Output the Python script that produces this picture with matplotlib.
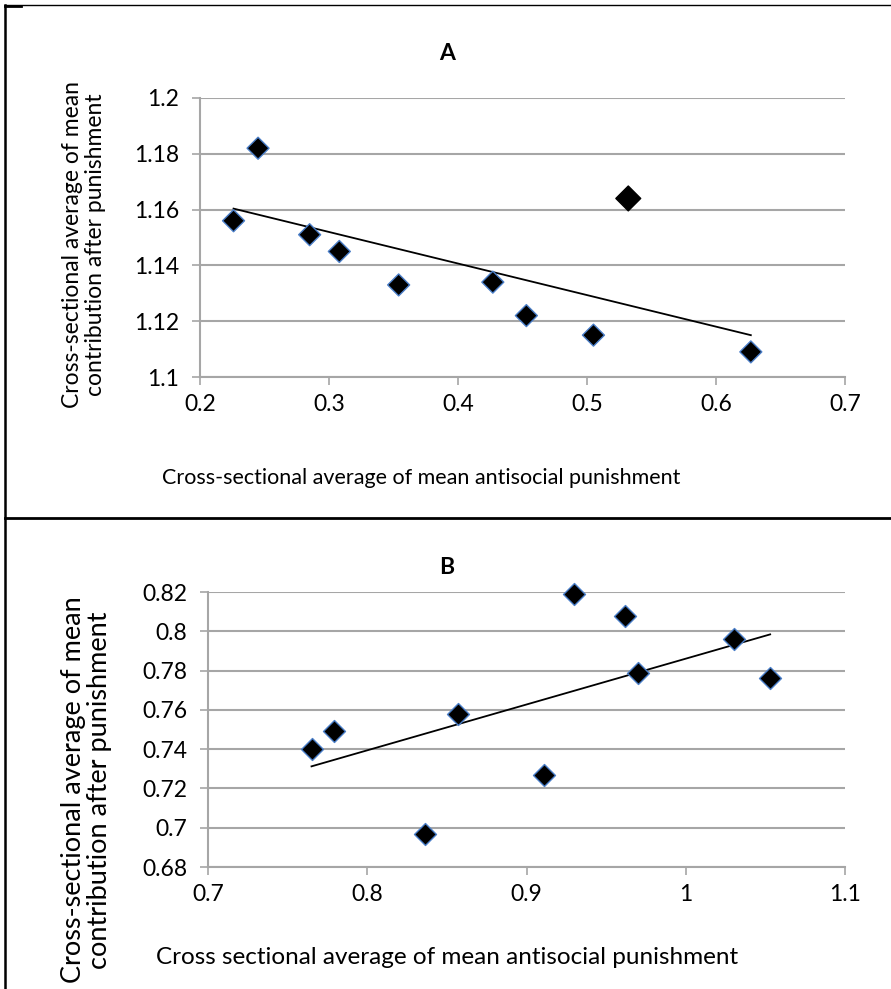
import numpy as np
import matplotlib
matplotlib.use("Agg")
import matplotlib.pyplot as plt
from matplotlib.lines import Line2D

plt.rcParams['font.family'] = ['Lato', 'DejaVu Sans']

# Panel A data
a_x = [0.226, 0.245, 0.285, 0.308, 0.354, 0.427, 0.453, 0.505, 0.532, 0.627]
a_y = [1.156, 1.182, 1.151, 1.145, 1.133, 1.134, 1.122, 1.115, 1.164, 1.109]
a_xticks = [0.2, 0.3, 0.4, 0.5, 0.6, 0.7]
a_xticklabels = ['0.2', '0.3', '0.4', '0.5', '0.6', '0.7']
a_yticks = [1.1, 1.12, 1.14, 1.16, 1.18, 1.2]
a_yticklabels = ['1.1', '1.12', '1.14', '1.16', '1.18', '1.2']

# Panel B data
b_x = [0.765, 0.779, 0.836, 0.857, 0.911, 0.930, 0.962, 0.970, 1.030, 1.053]
b_y = [0.740, 0.749, 0.697, 0.758, 0.727, 0.819, 0.808, 0.779, 0.796, 0.776]
b_xticks = [0.7, 0.8, 0.9, 1.0, 1.1]
b_xticklabels = ['0.7', '0.8', '0.9', '1', '1.1']
b_yticks = [0.68, 0.70, 0.72, 0.74, 0.76, 0.78, 0.80, 0.82]
b_yticklabels = ['0.68', '0.7', '0.72', '0.74', '0.76', '0.78', '0.8', '0.82']

W, H = 891, 989
fig = plt.figure(figsize=(W / 100, H / 100), dpi=100)

def px_rect(l, t, r, b):
    return [l / W, 1 - b / H, (r - l) / W, (b - t) / H]

GRID = '#a6a6a6'
EDGE = '#4a7ec8'

def style(ax, xt, xtl, yt, ytl, fs):
    ax.set_xticks(xt)
    ax.set_xticklabels(xtl)
    ax.set_yticks(yt)
    ax.set_yticklabels(ytl)
    ax.set_xlim(xt[0], xt[-1])
    ax.set_ylim(yt[0], yt[-1])
    for s in ['top', 'right']:
        ax.spines[s].set_visible(False)
    for s in ['left', 'bottom']:
        ax.spines[s].set_color(GRID)
        ax.spines[s].set_linewidth(1.5)
    ax.grid(axis='y', color=GRID, linewidth=1.5)
    ax.set_axisbelow(True)
    ax.tick_params(axis='both', direction='out', length=6, width=1.2,
                   color=GRID, labelsize=fs)
    ax.tick_params(axis='y', pad=9)
    ax.tick_params(axis='x', pad=6)

# Panel A
axA = fig.add_axes(px_rect(200, 98, 845, 377))
style(axA, a_xticks, a_xticklabels, a_yticks, a_yticklabels, 16.5)
coef = np.polyfit(a_x, a_y, 1)
xs = np.array([min(a_x), max(a_x)])
axA.plot(xs, np.polyval(coef, xs), color='black', linewidth=1.3, zorder=2)
a_big = 8
a_sizes = [160 if i == a_big else 125 for i in range(len(a_x))]
a_edges = ['black' if i == a_big else EDGE for i in range(len(a_x))]
axA.scatter(a_x, a_y, marker='D', s=a_sizes, c='black', edgecolors=a_edges,
            linewidths=1.0, zorder=3, clip_on=False)

# Panel B
axB = fig.add_axes(px_rect(208, 592, 845, 867))
style(axB, b_xticks, b_xticklabels, b_yticks, b_yticklabels, 16.5)
coef = np.polyfit(b_x, b_y, 1)
xs = np.array([min(b_x), max(b_x)])
axB.plot(xs, np.polyval(coef, xs), color='black', linewidth=1.3, zorder=2)
axB.scatter(b_x, b_y, marker='D', s=125, c='black', edgecolors=EDGE,
            linewidths=1.0, zorder=3, clip_on=False)

# Titles and labels
fig.text(447 / W, 1 - 53 / H, 'A', ha='center', va='center', fontsize=16.5, fontweight='bold')
fig.text(447 / W, 1 - 568 / H, 'B', ha='center', va='center', fontsize=16.5, fontweight='bold')

fig.text(84 / W, 1 - 245 / H, 'Cross-sectional average of mean\ncontribution after punishment',
         rotation=90, ha='center', va='center', fontsize=16.5, linespacing=1.1,
         multialignment='center')
fig.text(421 / W, 1 - 478 / H, 'Cross-sectional average of mean antisocial punishment',
         ha='center', va='center', fontsize=15.5)

fig.text(87 / W, 1 - 790 / H, 'Cross-sectional average of mean\ncontribution after punishment',
         rotation=90, ha='center', va='center', fontsize=19.5, linespacing=1.05,
         multialignment='center')
fig.text(447 / W, 1 - 958 / H, 'Cross sectional average of mean antisocial punishment',
         ha='center', va='center', fontsize=17.5)

# Frame lines
fig.add_artist(Line2D([5 / W, 5 / W], [1 - 5 / H, 0], transform=fig.transFigure,
                      color='black', linewidth=1.8))
fig.add_artist(Line2D([5 / W, 1], [1 - 5 / H, 1 - 5 / H], transform=fig.transFigure,
                      color='black', linewidth=1.0))
fig.add_artist(Line2D([5 / W, 21 / W], [1 - 5.5 / H, 1 - 5.5 / H], transform=fig.transFigure,
                      color='black', linewidth=2.0))
fig.add_artist(Line2D([5 / W, 1], [1 - 518 / H, 1 - 518 / H], transform=fig.transFigure,
                      color='black', linewidth=2.0))

fig.savefig('out.png', dpi=100)
